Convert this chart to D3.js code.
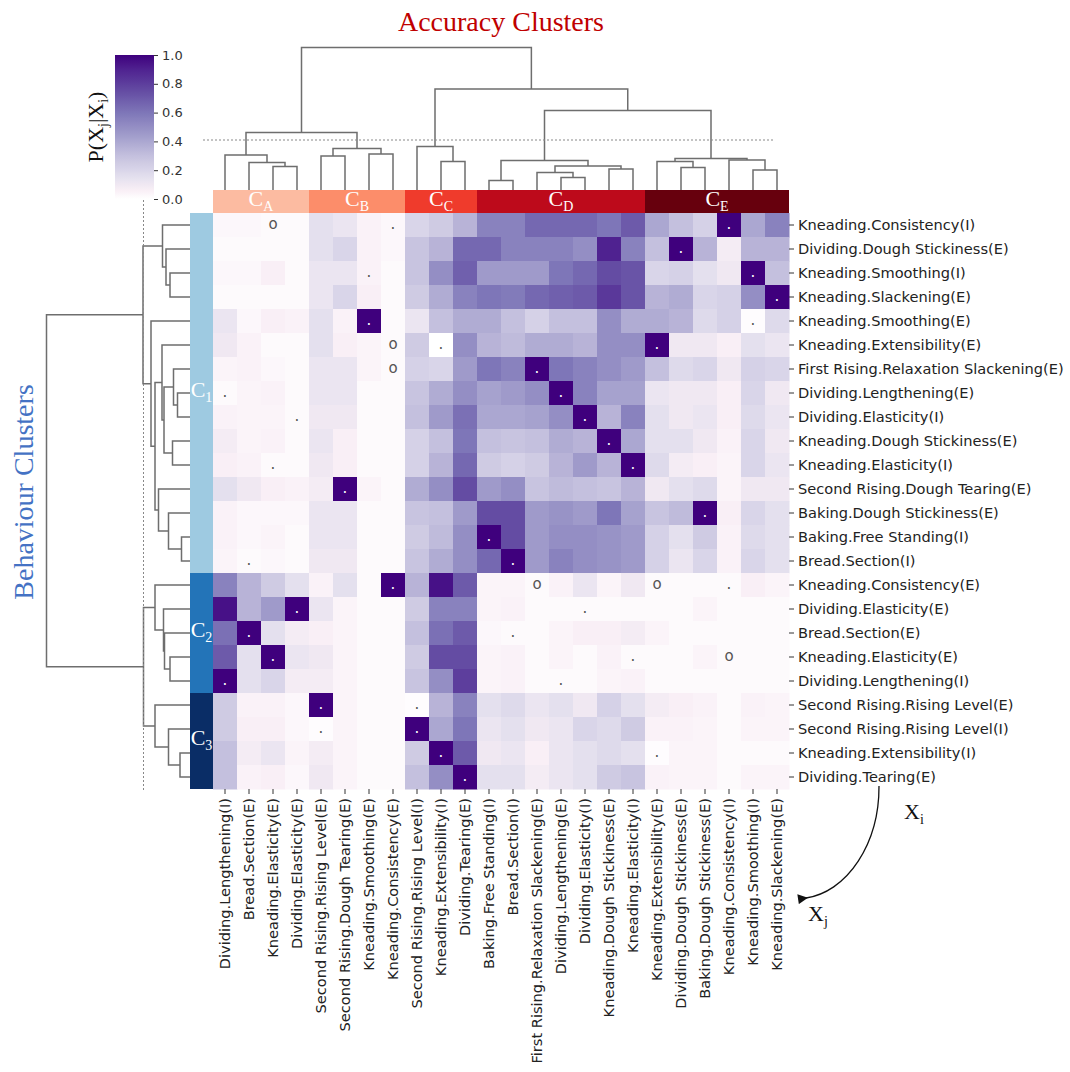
<!DOCTYPE html>
<html>
<head>
<meta charset="utf-8">
<script src="https://cdn.jsdelivr.net/npm/d3@7"></script>
<style>
  body { margin: 0; background: #fff; }
  text { font-family: "DejaVu Sans", sans-serif; }
  .serif { font-family: "Liberation Serif", "DejaVu Serif", serif; }
</style>
</head>
<body>
<div id="chart"></div>
<script>
// rows (X_j) and columns (X_i), in dendrogram order
var rowLabels = [
  "Kneading.Consistency(I)", "Dividing.Dough Stickiness(E)", "Kneading.Smoothing(I)",
  "Kneading.Slackening(E)", "Kneading.Smoothing(E)", "Kneading.Extensibility(E)",
  "First Rising.Relaxation Slackening(E)", "Dividing.Lengthening(E)", "Dividing.Elasticity(I)",
  "Kneading.Dough Stickiness(E)", "Kneading.Elasticity(I)", "Second Rising.Dough Tearing(E)",
  "Baking.Dough Stickiness(E)", "Baking.Free Standing(I)", "Bread.Section(I)",
  "Kneading.Consistency(E)", "Dividing.Elasticity(E)", "Bread.Section(E)",
  "Kneading.Elasticity(E)", "Dividing.Lengthening(I)", "Second Rising.Rising Level(E)",
  "Second Rising.Rising Level(I)", "Kneading.Extensibility(I)", "Dividing.Tearing(E)"
];
var colLabels = [
  "Dividing.Lengthening(I)", "Bread.Section(E)", "Kneading.Elasticity(E)", "Dividing.Elasticity(E)",
  "Second Rising.Rising Level(E)", "Second Rising.Dough Tearing(E)", "Kneading.Smoothing(E)",
  "Kneading.Consistency(E)", "Second Rising.Rising Level(I)", "Kneading.Extensibility(I)",
  "Dividing.Tearing(E)", "Baking.Free Standing(I)", "Bread.Section(I)",
  "First Rising.Relaxation Slackening(E)", "Dividing.Lengthening(E)", "Dividing.Elasticity(I)",
  "Kneading.Dough Stickiness(E)", "Kneading.Elasticity(I)", "Kneading.Extensibility(E)",
  "Dividing.Dough Stickiness(E)", "Baking.Dough Stickiness(E)", "Kneading.Consistency(I)",
  "Kneading.Smoothing(I)", "Kneading.Slackening(E)"
];

// P(Xj|Xi), one array per row
var values = [
  [0.03,0.03,0.02,0.02,0.15,0.12,0.05,0.03,0.20,0.25,0.35,0.55, 0.55,0.65,0.65,0.65,0.60,0.70,0.40,0.30,0.22,1.00,0.40,0.55],
  [0.02,0.02,0.02,0.02,0.15,0.20,0.05,0.03,0.28,0.35,0.65,0.65, 0.55,0.55,0.55,0.50,0.90,0.55,0.30,1.00,0.35,0.08,0.35,0.35],
  [0.03,0.03,0.06,0.02,0.12,0.12,0.05,0.02,0.28,0.50,0.68,0.45, 0.45,0.45,0.60,0.65,0.75,0.72,0.20,0.22,0.15,0.10,1.00,0.30],
  [0.02,0.02,0.02,0.02,0.12,0.20,0.06,0.02,0.25,0.38,0.55,0.60, 0.58,0.65,0.68,0.70,0.82,0.72,0.35,0.38,0.20,0.22,0.50,1.00],
  [0.12,0.03,0.06,0.05,0.15,0.05,1.00,0.02,0.12,0.30,0.38,0.38, 0.30,0.22,0.30,0.30,0.50,0.38,0.38,0.35,0.18,0.22,0.01,0.18],
  [0.10,0.05,0.02,0.02,0.15,0.06,0.04,0.02,0.25,0.00,0.50,0.35, 0.32,0.38,0.38,0.35,0.50,0.50,1.00,0.10,0.10,0.06,0.15,0.12],
  [0.04,0.05,0.03,0.02,0.12,0.12,0.04,0.02,0.22,0.20,0.45,0.60, 0.55,1.00,0.60,0.55,0.50,0.45,0.30,0.18,0.20,0.10,0.22,0.20],
  [0.02,0.04,0.05,0.02,0.12,0.12,0.02,0.02,0.28,0.38,0.50,0.42, 0.45,0.50,1.00,0.55,0.42,0.42,0.12,0.10,0.10,0.06,0.20,0.10],
  [0.05,0.04,0.04,0.02,0.10,0.10,0.02,0.02,0.30,0.45,0.62,0.40, 0.40,0.42,0.50,1.00,0.35,0.55,0.15,0.10,0.12,0.06,0.18,0.12],
  [0.08,0.04,0.05,0.02,0.12,0.06,0.02,0.02,0.22,0.30,0.60,0.30, 0.28,0.30,0.38,0.35,1.00,0.40,0.15,0.15,0.10,0.05,0.20,0.10],
  [0.06,0.05,0.02,0.02,0.10,0.06,0.02,0.02,0.22,0.35,0.65,0.25, 0.22,0.25,0.35,0.45,0.35,1.00,0.18,0.08,0.06,0.04,0.20,0.12],
  [0.15,0.10,0.06,0.05,0.08,1.00,0.04,0.02,0.38,0.50,0.75,0.45, 0.50,0.28,0.32,0.30,0.28,0.35,0.10,0.15,0.18,0.04,0.10,0.10],
  [0.05,0.03,0.03,0.03,0.12,0.12,0.02,0.02,0.28,0.30,0.45,0.75, 0.75,0.45,0.48,0.45,0.60,0.42,0.28,0.32,1.00,0.06,0.20,0.15],
  [0.05,0.03,0.04,0.02,0.12,0.12,0.02,0.02,0.25,0.32,0.50,1.00, 0.75,0.45,0.50,0.50,0.48,0.45,0.22,0.15,0.25,0.05,0.18,0.15],
  [0.04,0.02,0.03,0.02,0.10,0.10,0.02,0.02,0.28,0.38,0.50,0.65, 1.00,0.45,0.55,0.50,0.48,0.45,0.22,0.12,0.20,0.05,0.20,0.15],
  [0.55,0.35,0.25,0.15,0.05,0.15,0.02,1.00,0.35,0.95,0.70,0.04, 0.04,0.02,0.05,0.12,0.04,0.10,0.02,0.02,0.02,0.02,0.06,0.04],
  [0.95,0.35,0.45,1.00,0.12,0.04,0.02,0.02,0.25,0.55,0.55,0.04, 0.05,0.02,0.02,0.02,0.02,0.02,0.02,0.02,0.04,0.02,0.02,0.02],
  [0.62,1.00,0.15,0.08,0.06,0.04,0.02,0.02,0.30,0.62,0.70,0.03, 0.02,0.02,0.04,0.06,0.06,0.08,0.04,0.02,0.02,0.02,0.02,0.02],
  [0.70,0.15,1.00,0.12,0.10,0.04,0.02,0.02,0.25,0.75,0.75,0.04, 0.05,0.02,0.04,0.02,0.05,0.02,0.02,0.02,0.04,0.02,0.02,0.02],
  [1.00,0.15,0.20,0.08,0.08,0.04,0.02,0.02,0.28,0.50,0.80,0.04, 0.05,0.02,0.02,0.02,0.04,0.05,0.02,0.02,0.02,0.02,0.02,0.02],
  [0.25,0.05,0.05,0.03,1.00,0.04,0.02,0.02,0.01,0.35,0.55,0.15, 0.18,0.12,0.15,0.10,0.22,0.15,0.08,0.06,0.05,0.02,0.05,0.04],
  [0.25,0.06,0.06,0.03,0.01,0.04,0.02,0.02,1.00,0.40,0.60,0.12, 0.15,0.10,0.12,0.20,0.18,0.25,0.05,0.05,0.04,0.02,0.04,0.04],
  [0.30,0.08,0.12,0.04,0.08,0.04,0.02,0.02,0.25,1.00,0.70,0.10, 0.12,0.06,0.12,0.15,0.18,0.15,0.01,0.04,0.04,0.02,0.02,0.02],
  [0.30,0.05,0.06,0.03,0.10,0.04,0.02,0.02,0.30,0.50,1.00,0.15, 0.15,0.08,0.12,0.15,0.25,0.28,0.05,0.04,0.04,0.02,0.04,0.04]
];

// cell annotations [row, col, mark]
var marks = [
  [0,2,"o"],[5,7,"o"],[6,7,"o"],[15,13,"o"],[15,18,"o"],[18,21,"o"],
  [0,7,"."],[2,6,"."],[4,22,"."],[5,9,"."],[7,0,"."],[8,3,"."],[10,2,"."],[14,1,"."],
  [15,21,"."],[16,15,"."],[17,12,"."],[18,17,"."],[19,14,"."],[20,8,"."],[21,4,"."],[22,18,"."],
  [0,21,"."],[1,19,"."],[2,22,"."],[3,23,"."],[4,6,"."],[5,18,"."],[6,13,"."],[7,14,"."],
  [8,15,"."],[9,16,"."],[10,17,"."],[11,5,"."],[12,20,"."],[13,11,"."],[14,12,"."],[15,7,"."],
  [16,3,"."],[17,1,"."],[18,2,"."],[19,0,"."],[20,4,"."],[21,8,"."],[22,9,"."],[23,10,"."]
];

// clusters: [label, first index, last index]
var colClusters = [["A",0,3],["B",4,7],["C",8,10],["D",11,17],["E",18,23]];
var colClusterColors = ["#fcbba1","#fc8d6a","#ef3b2c","#bd0a1b","#67000d"];
var rowClusters = [["1",0,14],["2",15,19],["3",20,23]];
var rowClusterColors = ["#9ecae1","#2374b8","#0a2d66"];

// linkage: [child a, child b, distance]; leaves 0..23, merged node k is 24+k
var colLinkage = [
  [2,3,0.47],[1,24,0.55],[0,25,0.70],[4,5,0.68],[6,7,0.72],[27,28,0.83],[26,29,1.15],
  [9,10,0.57],[8,31,0.87],[11,12,0.19],[14,15,0.25],[13,34,0.35],[16,17,0.42],[35,36,0.48],
  [33,37,0.59],[19,20,0.45],[18,39,0.57],[22,23,0.40],[21,41,0.60],[40,42,0.63],
  [38,43,1.59],[32,44,2.02],[30,45,2.85]
];
var rowLinkage = [
  [2,3,0.40],[1,24,0.48],[0,25,0.55],[7,8,0.25],[6,27,0.33],[9,10,0.35],[28,29,0.52],
  [5,30,0.56],[13,14,0.17],[12,32,0.43],[11,33,0.63],[31,34,0.70],[4,35,0.78],[26,36,0.94],
  [18,19,0.40],[17,38,0.51],[16,39,0.53],[15,40,0.70],[22,23,0.20],[21,42,0.43],[20,43,0.70],
  [41,44,0.93],[37,45,2.87]
];
var colCut = 1.0, rowCut = 0.93;
var colorTicks = [0, 0.2, 0.4, 0.6, 0.8, 1.0];

var W = 1070, H = 1072;
var svg = d3.select("#chart").append("svg").attr("width", W).attr("height", H);

var x0 = 213, y0 = 213, cell = 24;
var x = d3.scaleBand().domain(d3.range(colLabels.length)).range([x0, x0 + cell * colLabels.length]);
var y = d3.scaleBand().domain(d3.range(rowLabels.length)).range([y0, y0 + cell * rowLabels.length]);

var color = d3.scaleLinear()
  .domain([0, 0.06, 0.15, 0.3, 0.45, 0.6, 0.75, 0.9, 1])
  .range(["#ffffff","#f9eff6","#e4e0ee","#c4c0de","#9f9aca","#7e76b8","#644ca3","#4f2290","#3f007d"])
  .clamp(true);

// heatmap
var cells = [];
values.forEach(function(row, r){ row.forEach(function(v, c){ cells.push({r:r, c:c, v:v}); }); });
svg.append("g").selectAll("rect").data(cells).enter().append("rect")
  .attr("x", function(d){ return x(d.c); })
  .attr("y", function(d){ return y(d.r); })
  .attr("width", x.bandwidth() + 0.5)
  .attr("height", y.bandwidth() + 0.5)
  .attr("fill", function(d){ return color(d.v); });

svg.append("g").selectAll("text").data(marks).enter().append("text")
  .attr("x", function(d){ return x(d[1]) + x.bandwidth() / 2; })
  .attr("y", function(d){ return y(d[0]) + y.bandwidth() / 2; })
  .attr("dy", "0.27em")
  .attr("text-anchor", "middle")
  .style("font-size", "15px")
  .attr("fill", function(d){ return values[d[0]][d[1]] > 0.7 ? "#ffffff" : "#555555"; })
  .text(function(d){ return d[2]; });

// axes
var yAxis = svg.append("g").attr("transform", "translate(" + (x0 + cell * colLabels.length) + ",0)")
  .call(d3.axisRight(y).tickSize(5).tickPadding(4).tickFormat(function(i){ return rowLabels[i]; }));
var xAxis = svg.append("g").attr("transform", "translate(0," + (y0 + cell * rowLabels.length) + ")")
  .call(d3.axisBottom(x).tickSize(5).tickFormat(function(i){ return colLabels[i]; }));
xAxis.selectAll("text")
  .attr("transform", "rotate(-90)")
  .attr("x", -9).attr("y", 0).attr("dy", "0.35em")
  .attr("text-anchor", "end");
[yAxis, xAxis].forEach(function(a){
  a.select(".domain").remove();
  a.selectAll("text").style("font-size", "14.6px").style("font-family", "DejaVu Sans").attr("fill", "#222");
  a.selectAll("line").attr("stroke", "#333");
});

// cluster bars
var barTop = 190;
svg.append("g").selectAll("rect").data(colClusters).enter().append("rect")
  .attr("x", function(d){ return x(d[1]); })
  .attr("y", barTop)
  .attr("width", function(d){ return x(d[2]) + x.bandwidth() - x(d[1]); })
  .attr("height", y0 - barTop)
  .attr("fill", function(d, i){ return colClusterColors[i]; });
svg.append("g").selectAll("rect").data(rowClusters).enter().append("rect")
  .attr("x", barTop)
  .attr("y", function(d){ return y(d[1]); })
  .attr("width", x0 - barTop)
  .attr("height", function(d){ return y(d[2]) + y.bandwidth() - y(d[1]); })
  .attr("fill", function(d, i){ return rowClusterColors[i]; });

function clusterLabel(g, d, cx, cy){
  var t = g.append("text").attr("class", "serif").attr("x", cx).attr("y", cy)
    .attr("text-anchor", "middle").attr("fill", "#fff").style("font-size", "22px");
  t.append("tspan").text("C");
  t.append("tspan").attr("dy", 5).style("font-size", "14px").text(d[0]);
}
var lg = svg.append("g");
colClusters.forEach(function(d){
  clusterLabel(lg, d, (x(d[1]) + x(d[2]) + x.bandwidth()) / 2, 206);
});
rowClusters.forEach(function(d){
  clusterLabel(lg, d, (barTop + x0) / 2, (y(d[1]) + y(d[2]) + y.bandwidth()) / 2 + 4);
});

// dendrograms
function linkSegments(linkage, n, leafPos){
  var pos = leafPos.slice(), h = leafPos.map(function(){ return 0; }), segs = [];
  linkage.forEach(function(l, k){
    var a = l[0], b = l[1], id = n + k;
    pos[id] = (pos[a] + pos[b]) / 2;
    h[id] = l[2];
    segs.push([[pos[a], h[a]], [pos[a], l[2]], [pos[b], l[2]], [pos[b], h[b]]]);
  });
  return segs;
}
var dTop = d3.scaleLinear().domain([0, 3]).range([barTop, 40]);
var dLeft = d3.scaleLinear().domain([0, 3]).range([barTop, 40]);

var colLeaves = d3.range(colLabels.length).map(function(i){ return x(i) + x.bandwidth() / 2; });
var rowLeaves = d3.range(rowLabels.length).map(function(i){ return y(i) + y.bandwidth() / 2; });

var topLine = d3.line().x(function(p){ return p[0]; }).y(function(p){ return dTop(p[1]); });
var leftLine = d3.line().x(function(p){ return dLeft(p[1]); }).y(function(p){ return p[0]; });

svg.append("g").selectAll("path").data(linkSegments(colLinkage, colLabels.length, colLeaves)).enter()
  .append("path").attr("d", topLine).attr("fill", "none").attr("stroke", "#6e6e6e").attr("stroke-width", 1.5);
svg.append("g").selectAll("path").data(linkSegments(rowLinkage, rowLabels.length, rowLeaves)).enter()
  .append("path").attr("d", leftLine).attr("fill", "none").attr("stroke", "#6e6e6e").attr("stroke-width", 1.5);

svg.append("line").attr("x1", 203).attr("x2", 773).attr("y1", dTop(colCut)).attr("y2", dTop(colCut))
  .attr("stroke", "#888").attr("stroke-dasharray", "2,2");
svg.append("line").attr("y1", 200).attr("y2", 790).attr("x1", dLeft(rowCut)).attr("x2", dLeft(rowCut))
  .attr("stroke", "#888").attr("stroke-dasharray", "2,2");

// colour bar
var cb = {x: 115, y: 55, w: 39, h: 144};
var grad = svg.append("defs").append("linearGradient").attr("id", "cbar")
  .attr("x1", 0).attr("y1", 1).attr("x2", 0).attr("y2", 0);
grad.selectAll("stop").data(d3.range(0, 1.0001, 0.02)).enter().append("stop")
  .attr("offset", function(d){ return d; })
  .attr("stop-color", function(d){ return color(d); });
svg.append("rect").attr("x", cb.x).attr("y", cb.y).attr("width", cb.w).attr("height", cb.h)
  .attr("fill", "url(#cbar)");
var cScale = d3.scaleLinear().domain([0, 1]).range([cb.y + cb.h, cb.y]);
var cAxis = svg.append("g").attr("transform", "translate(" + (cb.x + cb.w) + ",0)")
  .call(d3.axisRight(cScale).tickValues(colorTicks).tickFormat(d3.format(".1f")).tickSize(4).tickPadding(4));
cAxis.select(".domain").remove();
cAxis.selectAll("text").style("font-size", "13px").attr("fill", "#333");
cAxis.selectAll("line").attr("stroke", "#333");

var cl = svg.append("text").attr("class", "serif")
  .attr("transform", "translate(103," + (cb.y + cb.h / 2) + ") rotate(-90)")
  .attr("text-anchor", "middle").style("font-size", "22px").attr("fill", "#111");
cl.append("tspan").text("P(X");
cl.append("tspan").attr("dy", 5).style("font-size", "14px").text("j");
cl.append("tspan").attr("dy", -5).text("|X");
cl.append("tspan").attr("dy", 5).style("font-size", "14px").text("i");
cl.append("tspan").attr("dy", -5).text(")");

// titles
svg.append("text").attr("class", "serif").attr("x", 501).attr("y", 31)
  .attr("text-anchor", "middle").style("font-size", "28px").attr("fill", "#c00000")
  .text("Accuracy Clusters");
svg.append("text").attr("class", "serif")
  .attr("transform", "translate(33,492) rotate(-90)")
  .attr("text-anchor", "middle").style("font-size", "28px").attr("fill", "#4472c4")
  .text("Behaviour Clusters");

// X_i -> X_j arrow
svg.append("defs").append("marker").attr("id", "head")
  .attr("viewBox", "0 0 10 10").attr("refX", 2).attr("refY", 5)
  .attr("markerWidth", 12).attr("markerHeight", 10).attr("markerUnits", "userSpaceOnUse")
  .attr("orient", "auto")
  .append("path").attr("d", "M0,5 L10,0 L10,10 Z").attr("fill", "#111");
svg.append("path").attr("d", "M879,786 A82,112 0 0 1 806,898")
  .attr("fill", "none").attr("stroke", "#111").attr("stroke-width", 1.3)
  .attr("marker-end", "url(#head)");

function xLabel(px, py, sub){
  var t = svg.append("text").attr("class", "serif").attr("x", px).attr("y", py)
    .style("font-size", "22px").attr("fill", "#111");
  t.append("tspan").text("X");
  t.append("tspan").attr("dy", 5).style("font-size", "14px").text(sub);
}
xLabel(904, 819, "i");
xLabel(808, 921, "j");
</script>
</body>
</html>
